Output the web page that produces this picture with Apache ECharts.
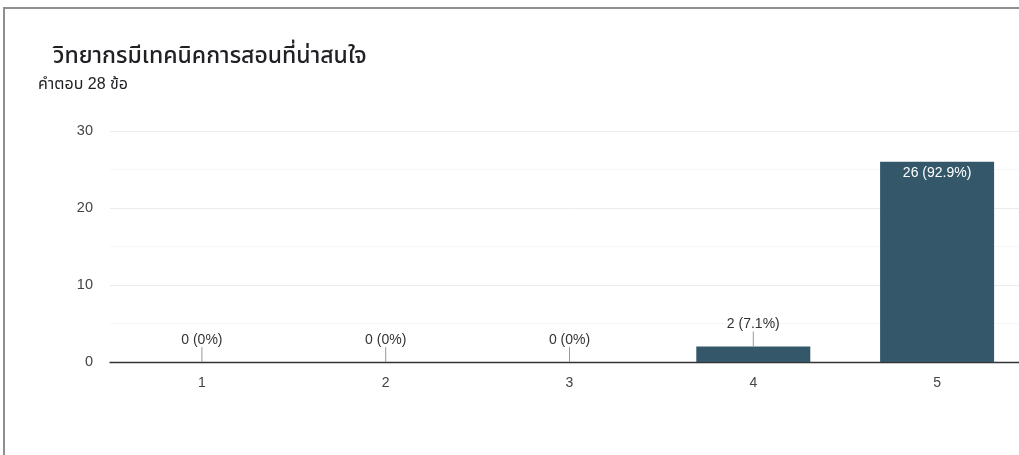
<!DOCTYPE html>
<html>
<head>
<meta charset="utf-8">
<script src="https://cdn.jsdelivr.net/npm/echarts@6/dist/echarts.min.js"></script>
<style>
html,body{margin:0;padding:0;background:#fff;overflow:hidden;width:1019px;height:455px;}
#frame{position:absolute;left:3px;top:7px;width:1100px;height:600px;border-top:2px solid #8f8f8f;border-left:2px solid #8f8f8f;}
#chart{position:absolute;left:0;top:0;width:1029px;height:455px;}
</style>
</head>
<body>
<div id="frame"></div>
<div id="chart"></div>
<script>
const titleText = 'วิทยากรมีเทคนิคการสอนที่น่าสนใจ';
const subtitleText = 'คำตอบ 28 ข้อ';
const categories = ['1', '2', '3', '4', '5'];
const counts = [0, 0, 0, 2, 26];
const percentLabels = ['0%', '0%', '0%', '7.1%', '92.9%'];
const yTicks = [0, 10, 20, 30];

const FONT = "'Liberation Sans', Arial, 'Noto Sans Thai', sans-serif";
const insideThreshold = 10;

const chart = echarts.init(document.getElementById('chart'));
chart.setOption({
  animation: false,
  textStyle: { fontFamily: FONT },
  title: [
    { text: titleText, left: 48, top: 40, textStyle: { fontSize: 23, fontWeight: 500, color: '#202124', fontFamily: FONT } },
    { text: subtitleText, left: 33, top: 72, textStyle: { fontSize: 16, fontWeight: 'normal', color: '#202124', fontFamily: FONT } }
  ],
  grid: { left: 110, right: 0, top: 131, bottom: 93, containLabel: false, outerBoundsMode: 'none' },
  xAxis: {
    type: 'category',
    data: categories,
    axisLine: { show: true, lineStyle: { color: '#333', width: 1.3 } },
    axisTick: { show: false },
    axisLabel: { color: '#444', fontSize: 14, margin: 14, fontFamily: FONT },
    splitLine: { show: false }
  },
  yAxis: {
    type: 'value',
    min: yTicks[0],
    max: yTicks[yTicks.length - 1],
    interval: 10,
    axisLine: { show: false },
    axisTick: { show: false },
    axisLabel: { color: '#444', fontSize: 14.5, margin: 17, fontFamily: FONT },
    splitLine: { show: true, lineStyle: { color: '#ebebeb', width: 1 } },
    minorTick: { show: false, splitNumber: 2 },
    minorSplitLine: { show: true, lineStyle: { color: '#f6f6f6', width: 1 } }
  },
  series: [
    {
      type: 'bar',
      barWidth: 114,
      data: counts.map((v, i) => ({
        value: v,
        label: v >= insideThreshold
          ? { position: 'insideTop', distance: 4, color: '#fff' }
          : { position: 'top', distance: 15, color: '#333' }
      })),
      itemStyle: { color: '#345869' },
      label: {
        show: true,
        fontSize: 14,
        fontFamily: FONT,
        formatter: p => counts[p.dataIndex] + ' (' + percentLabels[p.dataIndex] + ')'
      }
    },
    {
      type: 'custom',
      silent: true,
      data: counts.map((v, i) => [i, v]).filter(d => d[1] < insideThreshold),
      renderItem: function (params, api) {
        const p = api.coord([api.value(0), api.value(1)]);
        return {
          type: 'line',
          shape: { x1: p[0], y1: p[1], x2: p[0], y2: p[1] - 15 },
          style: { stroke: '#999', lineWidth: 1 }
        };
      },
      z: 5
    }
  ]
});
</script>
</body>
</html>
